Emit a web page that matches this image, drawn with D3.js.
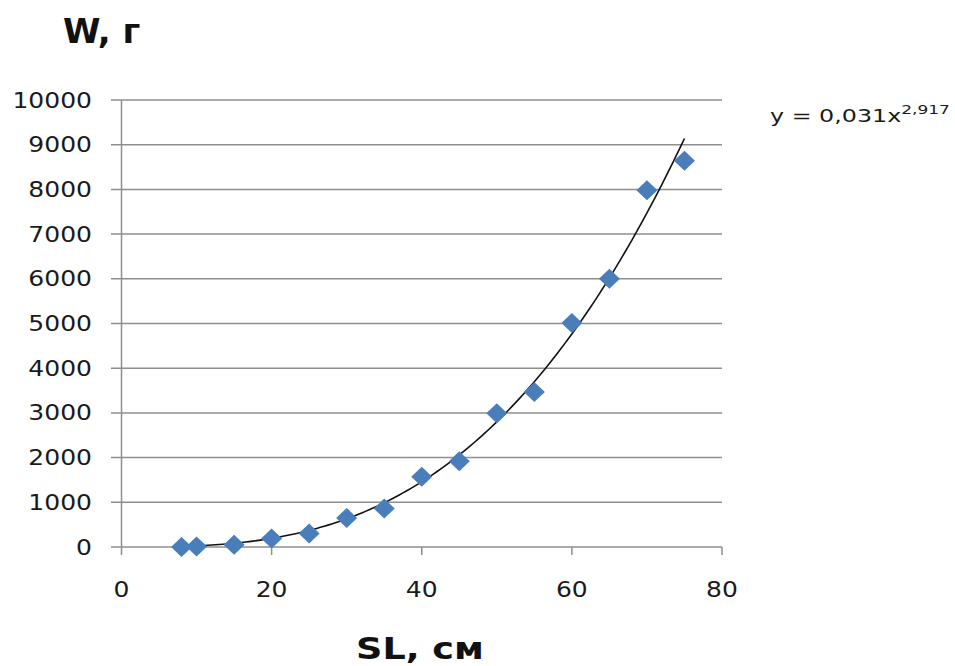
<!DOCTYPE html>
<html><head><meta charset="utf-8">
<script src="https://cdn.jsdelivr.net/npm/d3@7"></script>
<style>html,body{margin:0;padding:0;background:#fff;}svg{display:block;}</style>
</head><body>
<script>
const slValues = [8, 10, 15, 20, 25, 30, 35, 40, 45, 50, 55, 60, 65, 70, 75];
const wValues = [0, 10, 50, 190, 300, 650, 860, 1570, 1920, 2990, 3470, 5010, 6000, 7980, 8640];
const xTicks = [0, 20, 40, 60, 80];
const yTicks = [0, 1000, 2000, 3000, 4000, 5000, 6000, 7000, 8000, 9000, 10000];
const trendCoef = 0.031, trendExp = 2.917;
const trendRange = [8, 75];

const W = 955, H = 666;
const svg = d3.select("body").append("svg").attr("width", W).attr("height", H);
const x = d3.scaleLinear().domain([0, 80]).range([121.5, 722]);
const y = d3.scaleLinear().domain([0, 10000]).range([547, 100]);
const grid = "#8e8e8e";
const font = "DejaVu Sans, Verdana, sans-serif";
const SX = 1.22;

// gridlines
svg.append("g").selectAll("line").data(yTicks).join("line")
  .attr("x1", 111).attr("x2", 722)
  .attr("y1", d => y(d)).attr("y2", d => y(d))
  .attr("stroke", grid).attr("stroke-width", 1.5);
// y axis
svg.append("line").attr("x1", x(0)).attr("x2", x(0)).attr("y1", y(10000)).attr("y2", y(0))
  .attr("stroke", grid).attr("stroke-width", 1.5);
// x ticks
svg.append("g").selectAll("line").data(xTicks).join("line")
  .attr("x1", d => x(d)).attr("x2", d => x(d)).attr("y1", y(0)).attr("y2", y(0) + 8)
  .attr("stroke", grid).attr("stroke-width", 1.5);

// y labels
svg.append("g").selectAll("text").data(yTicks).join("text")
  .attr("transform", d => `translate(92,${y(d) + 7.5}) scale(${SX},1)`)
  .attr("text-anchor", "end").attr("font-family", font).attr("font-size", 20.5)
  .attr("fill", "#1a1a1a").text(d => d);
// x labels
svg.append("g").selectAll("text").data(xTicks).join("text")
  .attr("transform", d => `translate(${x(d)},${597}) scale(${SX},1)`)
  .attr("text-anchor", "middle").attr("font-family", font).attr("font-size", 20.5)
  .attr("fill", "#1a1a1a").text(d => d);

// trend line
const tr = d3.range(trendRange[0], trendRange[1] + 0.001, 0.5).map(v => [v, trendCoef * Math.pow(v, trendExp)]);
svg.append("path").datum(tr)
  .attr("d", d3.line().x(d => x(d[0])).y(d => y(d[1])))
  .attr("fill", "none").attr("stroke", "#111").attr("stroke-width", 1.6);

// points (diamonds)
const diamond = "M0,-10L10.5,0L0,10L-10.5,0Z";
svg.append("g").selectAll("path").data(slValues.map((v, i) => [v, wValues[i]])).join("path")
  .attr("d", diamond)
  .attr("transform", d => `translate(${x(d[0])},${y(d[1])})`)
  .attr("fill", "#4a7ebb");

// titles
svg.append("text").attr("transform", "translate(63,43) scale(1.0,1)")
  .attr("font-family", font).attr("font-weight", "bold").attr("font-size", 34).attr("fill", "#111").text("W, г");
svg.append("text").attr("transform", "translate(420,659) scale(1.22,1)")
  .attr("text-anchor", "middle").attr("font-family", font).attr("font-weight", "bold").attr("font-size", 30).attr("fill", "#111").text("SL, см");

// equation
const eq = svg.append("text").attr("transform", "translate(770,122) scale(1.36,1)")
  .attr("font-family", font).attr("font-size", 17.5).attr("fill", "#1a1a1a");
eq.append("tspan").text("y = 0,031x");
eq.append("tspan").attr("dy", -8).attr("font-size", 12.5).text("2,917");
</script>
</body></html>
